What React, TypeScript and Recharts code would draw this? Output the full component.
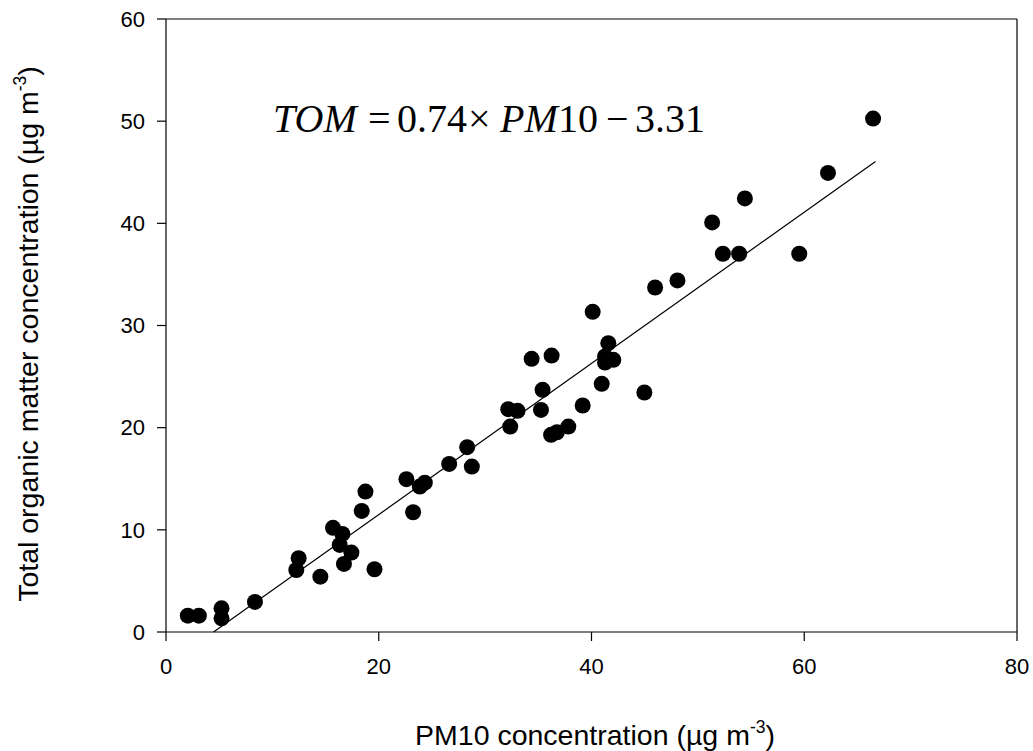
import React from "react";
import {
  ComposedChart,
  Scatter,
  XAxis,
  YAxis,
  ReferenceLine,
  Customized,
} from "recharts";

const pm10 = [
  2.05, 3.09, 5.22, 5.22, 8.36, 12.47, 12.25, 14.51, 15.7, 16.58, 16.33, 16.73,
  17.43, 18.75, 18.4, 19.6, 22.6, 23.23, 23.86, 24.33, 26.62, 28.31, 28.75,
  32.17, 33.05, 32.36, 34.37, 36.25, 35.4, 35.25, 36.2, 36.75, 37.82, 39.17,
  40.11, 41.58, 41.27, 42.05, 41.27, 40.96, 44.97, 45.98, 48.08, 51.34, 52.35,
  53.88, 54.42, 59.53, 62.23, 66.47,
];
const tom = [
  1.6, 1.6, 2.32, 1.34, 2.94, 7.22, 6.07, 5.42, 10.2, 9.6, 8.52, 6.66, 7.77,
  13.74, 11.85, 6.14, 14.96, 11.72, 14.23, 14.62, 16.45, 18.09, 16.19, 21.81,
  21.65, 20.11, 26.74, 27.06, 23.7, 21.74, 19.3, 19.55, 20.11, 22.17, 31.34,
  28.27, 26.97, 26.64, 26.38, 24.29, 23.44, 33.72, 34.41, 40.09, 37.02, 37.02,
  42.44, 37.02, 44.93, 50.25,
];
const xTicks = [0, 20, 40, 60, 80];
const yTicks = [0, 10, 20, 30, 40, 50, 60];
const fitSlope = 0.74;
const fitIntercept = -3.31;
const fitXStart = -fitIntercept / fitSlope;
const fitXEnd = 66.7;

const points = pm10.map((x, i) => ({ x, y: tom[i] }));

const SANS = "Arial, 'Liberation Sans', sans-serif";
const SERIF = "'Times New Roman', 'Liberation Serif', serif";

const Dot = (p: any) => <circle cx={p.cx} cy={p.cy} r={8} fill="#000" />;

const Texts = () => (
  <g>
    <text
      x={38}
      y={334}
      transform="rotate(-90, 38, 334)"
      textAnchor="middle"
      fontFamily={SANS}
      fontSize={28.5}
      fill="#000"
    >
      Total organic matter concentration (µg m
      <tspan fontSize={17.5} dy={-12}>-3</tspan>
      <tspan fontSize={28.5} dy={12}>)</tspan>
    </text>
    <text
      x={595}
      y={745}
      textAnchor="middle"
      fontFamily={SANS}
      fontSize={28.5}
      fill="#000"
    >
      PM10 concentration (µg m
      <tspan fontSize={17.5} dy={-12}>-3</tspan>
      <tspan fontSize={28.5} dy={12}>)</tspan>
    </text>
    <text y={132} fontFamily={SERIF} fontSize={40} fill="#000">
      <tspan x={273} fontStyle="italic">TOM</tspan>
      <tspan x={368}>=</tspan>
      <tspan x={397}>0.74</tspan>
      <tspan x={468}>×</tspan>
      <tspan x={500} fontStyle="italic">PM</tspan>
      <tspan x={558}>10</tspan>
      <tspan x={606}>−</tspan>
      <tspan x={635}>3.31</tspan>
    </text>
  </g>
);

export default function App() {
  return (
    <div style={{ position: "absolute", left: 0, top: 0, background: "#fff" }}>
      <ComposedChart
        width={1033}
        height={751}
        margin={{ top: 19, right: 16, left: 0, bottom: 0 }}
        data={points}
      >
        <XAxis
          type="number"
          dataKey="x"
          domain={[0, 80]}
          ticks={xTicks}
          interval={0}
          height={119}
          tickSize={9}
          tickMargin={17}
          axisLine={{ stroke: "#000", strokeWidth: 1.2 }}
          tickLine={{ stroke: "#000", strokeWidth: 1.2 }}
          tick={{ fill: "#000", fontSize: 22, fontFamily: SANS }}
          allowDataOverflow
        />
        <YAxis
          type="number"
          dataKey="y"
          domain={[0, 60]}
          ticks={yTicks}
          interval={0}
          width={166}
          tickSize={9}
          tickMargin={12}
          axisLine={{ stroke: "#000", strokeWidth: 1.2 }}
          tickLine={{ stroke: "#000", strokeWidth: 1.2 }}
          tick={{ fill: "#000", fontSize: 22, fontFamily: SANS }}
          allowDataOverflow
        />
        <ReferenceLine y={60} stroke="#000" strokeWidth={1.2} />
        <ReferenceLine x={80} stroke="#000" strokeWidth={1.2} />
        <ReferenceLine
          segment={[
            { x: fitXStart, y: fitSlope * fitXStart + fitIntercept },
            { x: fitXEnd, y: fitSlope * fitXEnd + fitIntercept },
          ]}
          stroke="#000"
          strokeWidth={1.2}
        />
        <Scatter
          data={points}
          dataKey="y"
          fill="#000"
          shape={Dot}
          isAnimationActive={false}
        />
        <Customized component={Texts} />
      </ComposedChart>
    </div>
  );
}
